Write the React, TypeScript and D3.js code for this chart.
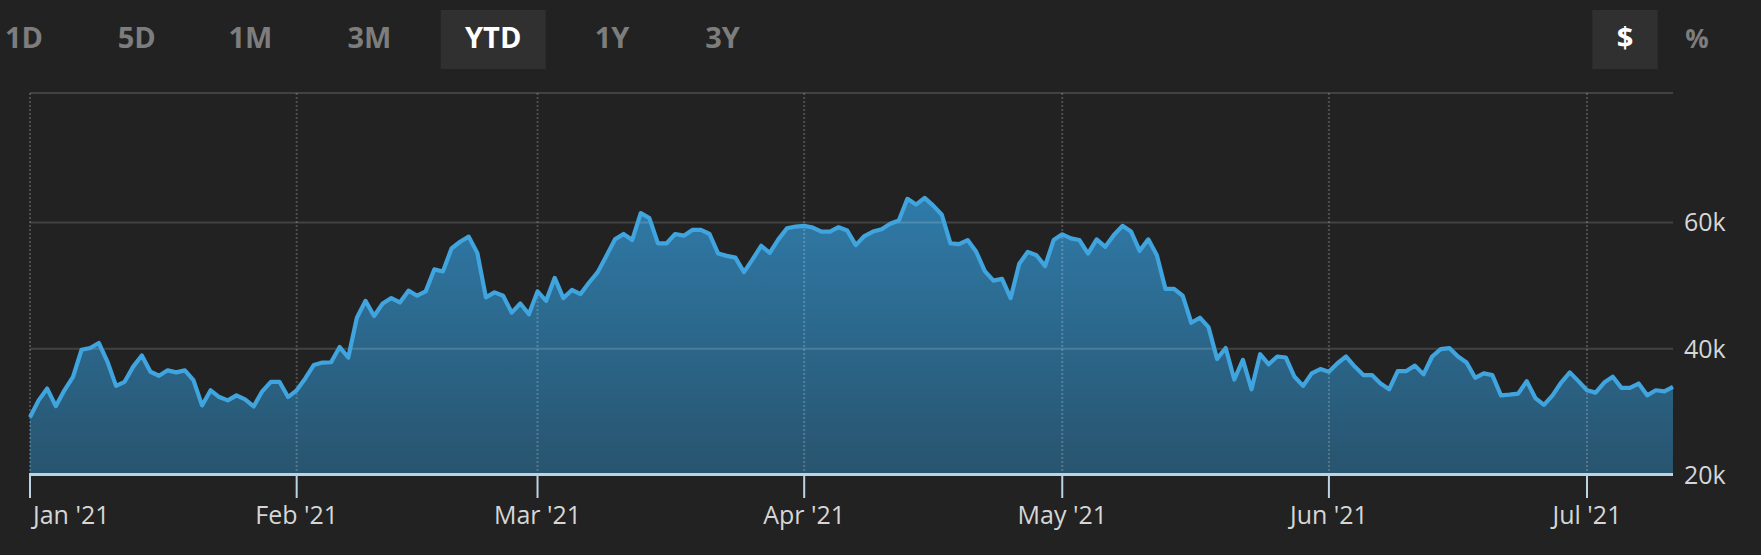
import React from "react";
import * as d3 from "d3";

const START_DATE = "2021-01-01";
const prices = [
  29140, 31820, 33690, 30910, 33420, 35560, 39840, 40110, 40910, 37970,
  34120, 34760, 37170, 38930, 36360, 35720, 36580, 36260, 36580, 35030,
  31020, 33420, 32350, 31820, 32620, 31980, 30860, 33260, 34760, 34760,
  32350, 33420, 35290, 37430, 37810, 37860, 40270, 38610, 44920, 47590,
  45190, 47170, 48020, 47330, 49200, 48400, 49090, 52570, 52250, 55880,
  56950, 57760, 55190, 48130, 48930, 48400, 45720, 47170, 45460, 49090,
  47590, 51230, 48020, 49310, 48660, 50500, 52140, 54710, 57330, 58180,
  57220, 61500, 60700, 56690, 56690, 58180, 57920, 58830, 58830, 58180,
  55080, 54710, 54440, 52140, 54170, 56310, 55190, 57330, 59090, 59360,
  59470, 59200, 58560, 58560, 59250, 58720, 56420, 57860, 58560, 58930,
  59790, 60320, 63750, 62840, 63910, 62680, 61230, 56690, 56580, 57220,
  55350, 52300, 50800, 51070, 48020, 53480, 55350, 54810, 53100, 57220,
  58130, 57490, 57220, 55080, 57330, 56150, 58020, 59470, 58560, 55510,
  57330, 54810, 49470, 49470, 48400, 44120, 44920, 43420, 38400, 40110,
  35130, 38240, 33580, 39140, 37540, 38770, 38610, 35560, 34120, 36100,
  36790, 36360, 37700, 38770, 37170, 35830, 35830, 34490, 33580, 36470,
  36470, 37330, 35940, 38770, 39950, 40110, 38770, 37810, 35400, 36100,
  35830, 32620, 32730, 32890, 34870, 32190, 31120, 32620, 34650, 36260,
  34870, 33420, 33050, 34650, 35560, 33800, 33800, 34490, 32620, 33420,
  33260, 33960,
];
const yTicks = [20000, 40000, 60000];
const monthTicks = ["2021-01-01", "2021-02-01", "2021-03-01", "2021-04-01", "2021-05-01", "2021-06-01", "2021-07-01"];
const rangeButtons = ["1D", "5D", "1M", "3M", "YTD", "1Y", "3Y"];
const activeRange = "YTD";
const unitButtons = ["$", "%"];
const activeUnit = "$";

const W = 1761;
const H = 555;
const PLOT_LEFT = 30;
const PLOT_RIGHT = 1673;
const PLOT_TOP = 93;
const FONT = "'Open Sans', 'Noto Sans', sans-serif";

export default function App() {
  const parse = d3.utcParse("%Y-%m-%d");
  const start = parse(START_DATE) as Date;
  const dates = prices.map((_, i) => d3.utcDay.offset(start, i));
  const data = prices.map((v, i) => ({ date: dates[i], value: v }));

  const x = d3
    .scaleUtc()
    .domain([dates[0], dates[dates.length - 1]])
    .range([PLOT_LEFT, PLOT_RIGHT]);
  const y = d3.scaleLinear().domain([20000, 60000]).range([475, 222.5]);

  const area = d3
    .area<{ date: Date; value: number }>()
    .x((d) => x(d.date))
    .y0(y(20000))
    .y1((d) => y(d.value));
  const line = d3
    .line<{ date: Date; value: number }>()
    .x((d) => x(d.date))
    .y((d) => y(d.value));

  const fmtMonth = d3.utcFormat("%b '%y");
  const ticks = monthTicks.map((s) => parse(s) as Date);

  const rangeCenters = [24, 136.7, 250.5, 369.5, 493.2, 612, 722.5];
  const unitCenters = [1625, 1697];

  return (
    <svg
      width={W}
      height={H}
      style={{ position: "absolute", left: 0, top: 0, display: "block" }}
      fontFamily={FONT}
    >
      <defs>
        <linearGradient id="areaGrad" gradientUnits="userSpaceOnUse" x1="0" y1="200" x2="0" y2="475">
          <stop offset="0" stopColor="#2f7aa8" />
          <stop offset="1" stopColor="#28546e" />
        </linearGradient>
      </defs>
      <rect x={0} y={0} width={W} height={H} fill="#222222" />

      {/* range buttons */}
      {rangeButtons.map((b, i) => (
        <g key={b}>
          {b === activeRange && (
            <rect x={rangeCenters[i] - 52.5} y={10} width={105} height={59} fill="#303030" />
          )}
          <text
            x={rangeCenters[i]}
            y={48.3}
            textAnchor="middle"
            fontSize={29}
            fontWeight={700}
            fill={b === activeRange ? "#ffffff" : "#7d7d7d"}
          >
            {b}
          </text>
        </g>
      ))}
      {unitButtons.map((b, i) => (
        <g key={b}>
          {b === activeUnit && (
            <rect x={unitCenters[i] - 32.7} y={10} width={65.4} height={59} fill="#303030" />
          )}
          <text
            x={unitCenters[i]}
            y={48.3}
            textAnchor="middle"
            fontSize={b === "%" ? 26 : 29}
            fontWeight={700}
            fill={b === activeUnit ? "#ffffff" : "#7d7d7d"}
          >
            {b}
          </text>
        </g>
      ))}

      {/* area */}
      <path d={area(data) || ""} fill="url(#areaGrad)" />

      {/* horizontal grid */}
      <line x1={PLOT_LEFT} x2={PLOT_RIGHT} y1={PLOT_TOP} y2={PLOT_TOP} stroke="rgba(255,255,255,0.15)" strokeWidth={2} />
      {yTicks
        .filter((t) => t > 20000)
        .map((t) => (
          <line key={t} x1={PLOT_LEFT} x2={PLOT_RIGHT} y1={y(t)} y2={y(t)} stroke="rgba(255,255,255,0.15)" strokeWidth={2} />
        ))}

      {/* vertical dotted grid */}
      {ticks.map((t) => (
        <line
          key={t.toISOString()}
          x1={x(t)}
          x2={x(t)}
          y1={PLOT_TOP}
          y2={474}
          stroke="rgba(255,255,255,0.2)"
          strokeWidth={2}
          strokeDasharray="2,2"
        />
      ))}

      {/* line */}
      <path d={line(data) || ""} fill="none" stroke="#40a4de" strokeWidth={4.2} strokeLinejoin="round" />

      {/* x axis */}
      <line x1={PLOT_LEFT - 1} x2={PLOT_RIGHT} y1={474.5} y2={474.5} stroke="#bcd3e3" strokeWidth={3} />
      {ticks.map((t, i) => (
        <g key={"t" + t.toISOString()}>
          <line x1={x(t)} x2={x(t)} y1={474} y2={498} stroke="#bcd3e3" strokeWidth={2} />
          <text
            x={i === 0 ? x(t) + 3 : x(t)}
            y={523.5}
            textAnchor={i === 0 ? "start" : "middle"}
            fontSize={25}
            fill="#d6d6d6"
          >
            {fmtMonth(t)}
          </text>
        </g>
      ))}

      {/* y labels */}
      {yTicks.map((t) => (
        <text key={t} x={1684} y={y(t)} dy="0.35em" fontSize={25} fill="#d6d6d6">
          {d3.format("~s")(t)}
        </text>
      ))}
    </svg>
  );
}
